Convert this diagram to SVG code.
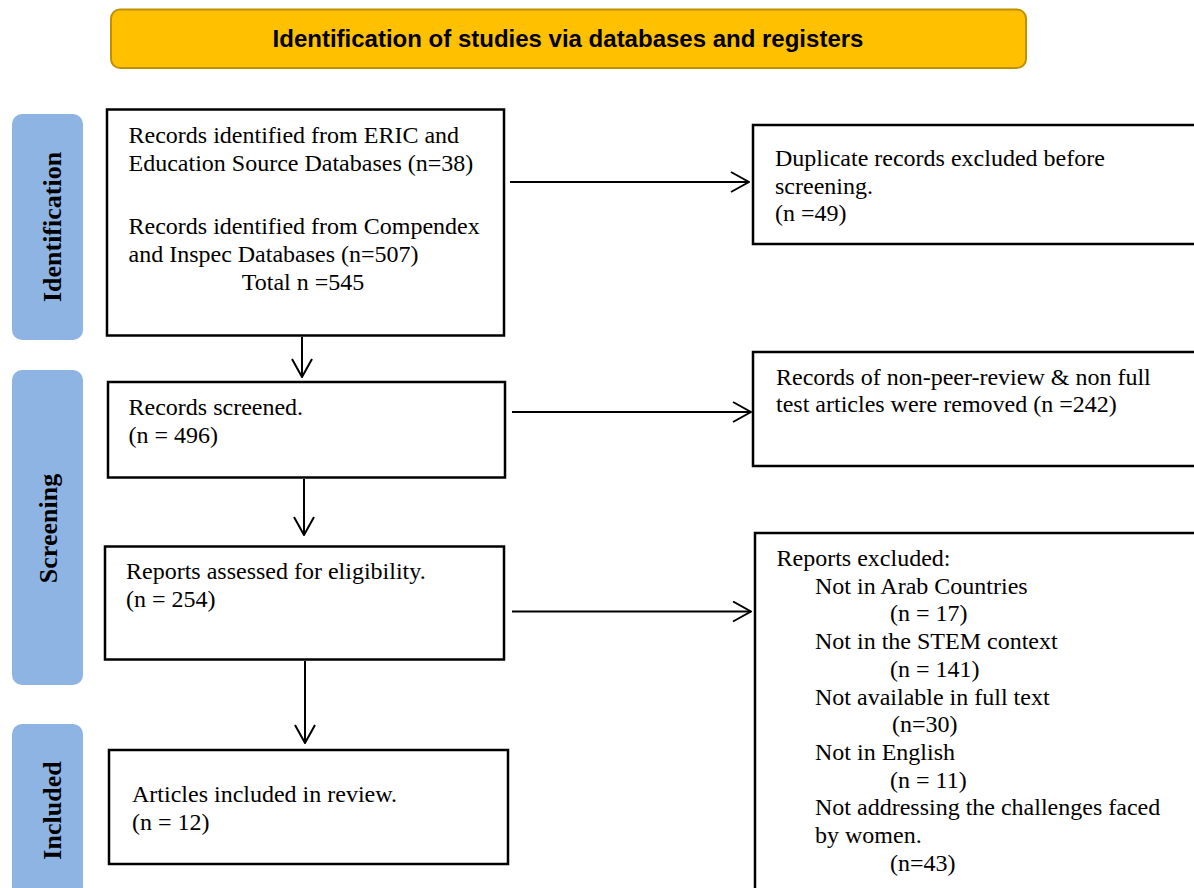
<svg xmlns="http://www.w3.org/2000/svg" width="1194" height="888" viewBox="0 0 1194 888">
<style>
.box{fill:#fff;stroke:#000;stroke-width:2.5}
.lane{fill:#8EB4E3;stroke:none}
.t{font-family:"Liberation Serif","Times New Roman",serif;font-size:24px;fill:#000}
.lt{font-family:"Liberation Serif","Times New Roman",serif;font-size:26px;font-weight:bold;fill:#000}
.ht{font-family:"Liberation Sans",Arial,sans-serif;font-size:24px;font-weight:bold;fill:#000}
.c{stroke:#000;stroke-width:2;fill:none}
</style>
<defs>
<marker id="ah" viewBox="0 0 20 22" refX="19" refY="11" markerWidth="20" markerHeight="22" markerUnits="userSpaceOnUse" orient="auto">
<path d="M1,1 L19,11 L1,21" fill="none" stroke="#000" stroke-width="2"/>
</marker>
</defs>
<rect width="1194" height="888" fill="#fff"/>
<g id="header">
<rect x="111" y="9.5" width="915" height="58.5" rx="9" fill="#FFC000" stroke="#BF9000" stroke-width="2"/>
<text class="ht" x="568" y="47" text-anchor="middle">Identification of studies via databases and registers</text>
</g>
<g id="lane-identification">
<rect class="lane" x="12" y="114" width="71" height="226" rx="10"/>
<text class="lt" transform="translate(61,227) rotate(-90)" text-anchor="middle">Identification</text>
</g>
<g id="lane-screening">
<rect class="lane" x="12" y="370" width="71" height="315" rx="10"/>
<text class="lt" transform="translate(57,528.5) rotate(-90)" text-anchor="middle">Screening</text>
</g>
<g id="lane-included">
<rect class="lane" x="12" y="724" width="71" height="190" rx="10"/>
<text class="lt" transform="translate(61,810.5) rotate(-90)" text-anchor="middle">Included</text>
</g>
<g id="records-identified">
<rect class="box" x="107" y="109.5" width="397" height="226"/>
<text class="t" x="128.5" y="143">Records identified from ERIC and</text>
<text class="t" x="128.5" y="171">Education Source Databases (n=38)</text>
<text class="t" x="128.5" y="234">Records identified from Compendex</text>
<text class="t" x="128.5" y="262">and Inspec Databases (n=507)</text>
<text class="t" x="303" y="290" text-anchor="middle">Total n =545</text>
</g>
<g id="duplicates">
<rect class="box" x="753" y="125" width="460" height="119"/>
<text class="t" x="775" y="166">Duplicate records excluded before</text>
<text class="t" x="775" y="193.5">screening.</text>
<text class="t" x="775" y="221">(n =49)</text>
</g>
<g id="records-screened">
<rect class="box" x="108" y="382" width="397" height="95.5"/>
<text class="t" x="128.5" y="415">Records screened.</text>
<text class="t" x="128.5" y="443">(n = 496)</text>
</g>
<g id="records-removed">
<rect class="box" x="753" y="352" width="460" height="114"/>
<text class="t" x="776" y="385">Records of non-peer-review &amp; non full</text>
<text class="t" x="776" y="412">test articles were removed (n =242)</text>
</g>
<g id="reports-assessed">
<rect class="box" x="105" y="546.5" width="399" height="113"/>
<text class="t" x="126" y="579">Reports assessed for eligibility.</text>
<text class="t" x="126" y="607">(n = 254)</text>
</g>
<g id="reports-excluded">
<rect class="box" x="755" y="533" width="460" height="380"/>
<text class="t" x="776.5" y="566">Reports excluded:</text>
<text class="t" x="815" y="593.7">Not in Arab Countries</text>
<text class="t" x="890" y="621.4">(n = 17)</text>
<text class="t" x="815" y="649.1">Not in the STEM context</text>
<text class="t" x="890" y="676.8">(n = 141)</text>
<text class="t" x="815" y="704.5">Not available in full text</text>
<text class="t" x="892" y="732.2">(n=30)</text>
<text class="t" x="815" y="759.9">Not in English</text>
<text class="t" x="890" y="787.6">(n = 11)</text>
<text class="t" x="815" y="815.3">Not addressing the challenges faced</text>
<text class="t" x="815" y="843">by women.</text>
<text class="t" x="890" y="870.7">(n=43)</text>
</g>
<g id="articles-included">
<rect class="box" x="109" y="750" width="399" height="114"/>
<text class="t" x="132" y="802">Articles included in review.</text>
<text class="t" x="132" y="830">(n = 12)</text>
</g>
<g id="connectors">
<line class="c" x1="510" y1="182" x2="749" y2="182" marker-end="url(#ah)"/>
<line class="c" x1="302" y1="337" x2="302" y2="377" marker-end="url(#ah)"/>
<line class="c" x1="512" y1="412" x2="751" y2="412" marker-end="url(#ah)"/>
<line class="c" x1="304" y1="479" x2="304" y2="535" marker-end="url(#ah)"/>
<line class="c" x1="512" y1="611.5" x2="751" y2="611.5" marker-end="url(#ah)"/>
<line class="c" x1="305" y1="661" x2="305" y2="743" marker-end="url(#ah)"/>
</g>
</svg>
